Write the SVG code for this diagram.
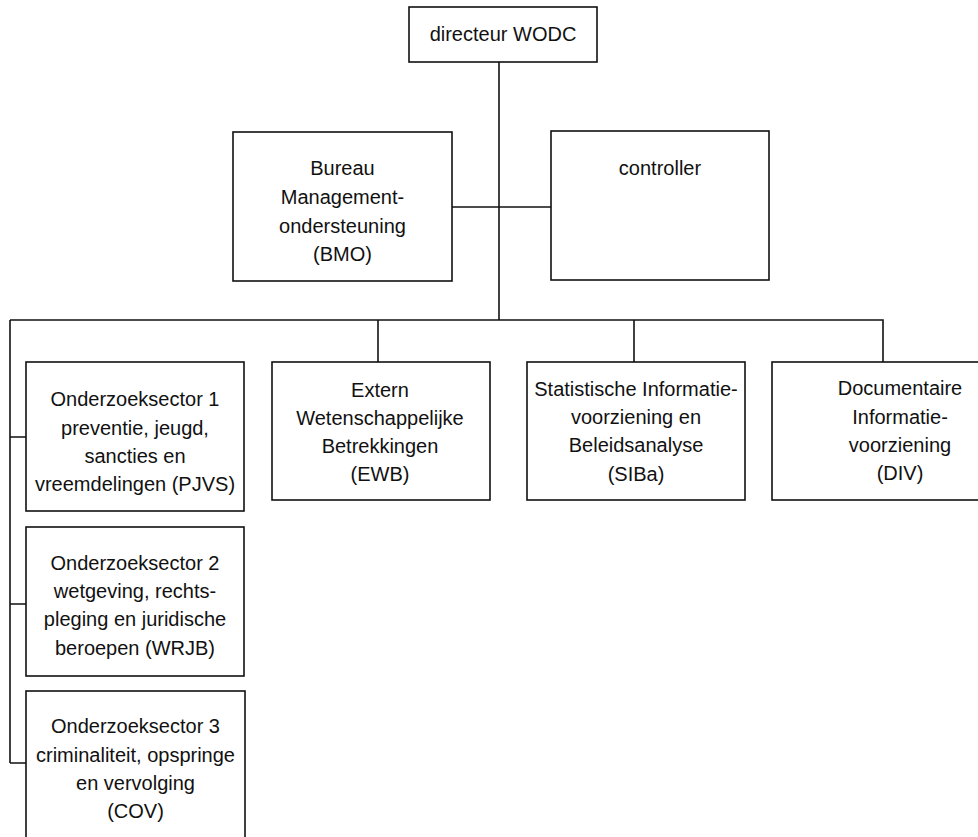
<svg xmlns="http://www.w3.org/2000/svg" width="978" height="837" viewBox="0 0 978 837">
<style>
.box{fill:#fff;stroke:#111;stroke-width:1.6}
.ln{fill:none;stroke:#111;stroke-width:1.6}
text{font-family:"Liberation Sans",Arial,sans-serif;font-size:20px;fill:#111;text-anchor:middle}
</style>
<rect width="978" height="837" fill="#fff"/>
<g id="connectors">
<path class="ln" d="M499,62 V320"/>
<path class="ln" d="M452,207 H551"/>
<path class="ln" d="M10,320 H883 V362"/>
<path class="ln" d="M378,320 V362"/>
<path class="ln" d="M634,320 V362"/>
<path class="ln" d="M10,320 V763"/>
<path class="ln" d="M10,437 H26 M10,604 H26 M10,763 H26"/>
</g>
<g id="directeur">
<rect class="box" x="409" y="7" width="188" height="55"/>
<text x="503" y="41">directeur WODC</text>
</g>
<g id="bmo">
<rect class="box" x="233" y="132" width="219" height="149"/>
<text x="342.5" y="175">Bureau</text>
<text x="342.5" y="203.5">Management-</text>
<text x="342.5" y="232.5">ondersteuning</text>
<text x="342.5" y="261">(BMO)</text>
</g>
<g id="controller">
<rect class="box" x="551" y="131" width="218" height="149"/>
<text x="660" y="175">controller</text>
</g>
<g id="pjvs">
<rect class="box" x="26" y="362" width="218" height="149"/>
<text x="135" y="406">Onderzoeksector 1</text>
<text x="135" y="435">preventie, jeugd,</text>
<text x="135" y="463">sancties en</text>
<text x="135" y="491">vreemdelingen (PJVS)</text>
</g>
<g id="wrjb">
<rect class="box" x="26" y="527" width="218" height="149"/>
<text x="135" y="570">Onderzoeksector 2</text>
<text x="135" y="598">wetgeving, rechts-</text>
<text x="135" y="626">pleging en juridische</text>
<text x="135" y="655">beroepen (WRJB)</text>
</g>
<g id="cov">
<rect class="box" x="26" y="691" width="219" height="160"/>
<text x="135.5" y="733">Onderzoeksector 3</text>
<text x="135.5" y="762">criminaliteit, opspringe</text>
<text x="135.5" y="790">en vervolging</text>
<text x="135.5" y="818">(COV)</text>
</g>
<g id="ewb">
<rect class="box" x="272" y="362" width="218" height="138"/>
<text x="380" y="397">Extern</text>
<text x="380" y="425">Wetenschappelijke</text>
<text x="380" y="453">Betrekkingen</text>
<text x="380" y="481">(EWB)</text>
</g>
<g id="siba">
<rect class="box" x="527" y="362" width="218" height="138"/>
<text x="636" y="396">Statistische Informatie-</text>
<text x="636" y="424">voorziening en</text>
<text x="636" y="452">Beleidsanalyse</text>
<text x="636" y="481">(SIBa)</text>
</g>
<g id="div">
<rect class="box" x="772" y="362" width="260" height="138"/>
<text x="900" y="395">Documentaire</text>
<text x="900" y="424">Informatie-</text>
<text x="900" y="452">voorziening</text>
<text x="900" y="480">(DIV)</text>
</g>
</svg>
